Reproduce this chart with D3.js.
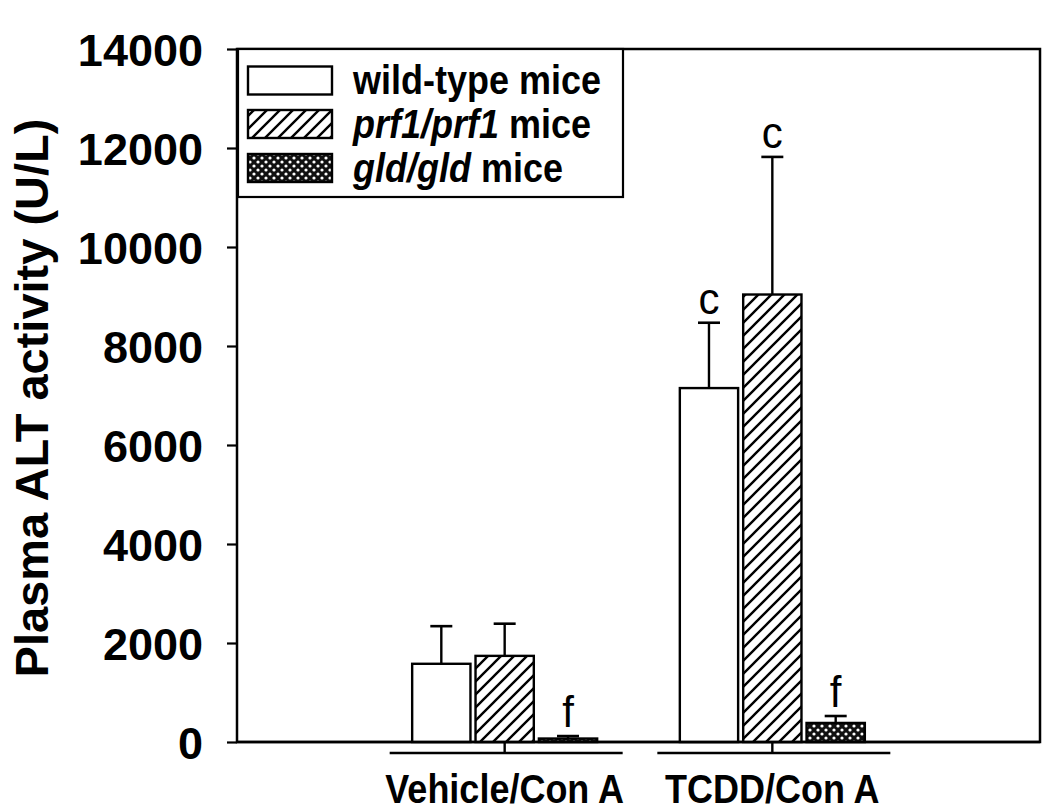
<!DOCTYPE html>
<html><head><meta charset="utf-8">
<script src="https://cdn.jsdelivr.net/npm/d3@7"></script>
<style>body{margin:0;background:#fff;} svg{display:block;} text{font-family:"Liberation Sans",Arial,sans-serif;}</style>
</head><body><svg id="c" width="1050" height="811"></svg>
<script>
const groups = ["Vehicle/Con A", "TCDD/Con A"];
const series = ["wild-type", "prf1/prf1", "gld/gld"];
const means = { "wild-type": [1580, 7150], "prf1/prf1": [1740, 9040], "gld/gld": [70, 385] };
const sems  = { "wild-type": [760, 1320],  "prf1/prf1": [650, 2780],  "gld/gld": [50, 140] };
const letters = { "wild-type": ["", "c"], "prf1/prf1": ["", "c"], "gld/gld": ["f", "f"] };
const yTicks = [0, 2000, 4000, 6000, 8000, 10000, 12000, 14000];
const legendLabels = [
  [{t:"wild-type mice", i:false}],
  [{t:"prf1/prf1", i:true}, {t:" mice", i:false}],
  [{t:"gld/gld", i:true}, {t:" mice", i:false}]
];

const svg = d3.select("#c");
const L = 237, R = 1040, T = 49, B = 742;
const x = d3.scaleLinear().domain([0, 3]).range([L, R]);
const y = d3.scaleLinear().domain([0, 14000]).range([B, T]);
const inner = d3.scaleBand().domain(series).range([-92.5, 92.5]).paddingInner(0.08);

const defs = svg.append("defs");
const hatch = defs.append("pattern").attr("id","hatch").attr("patternUnits","userSpaceOnUse")
  .attr("width",13).attr("height",13);
hatch.append("rect").attr("width",13).attr("height",13).attr("fill","#fff");
hatch.append("path").attr("d","M-3,16 L16,-3 M-3,3 L3,-3 M10,16 L16,10")
  .attr("stroke","#000").attr("stroke-width",2.4);
const cross = defs.append("pattern").attr("id","cross").attr("patternUnits","userSpaceOnUse")
  .attr("width",8).attr("height",8);
cross.append("rect").attr("width",8).attr("height",8).attr("fill","#111");
cross.append("circle").attr("cx",2).attr("cy",2).attr("r",1.6).attr("fill","#fff");
cross.append("circle").attr("cx",6).attr("cy",6).attr("r",1.6).attr("fill","#fff");
const fills = { "wild-type": "#fff", "prf1/prf1": "url(#hatch)", "gld/gld": "url(#cross)" };

// y axis
const yAxis = svg.append("g").attr("transform",`translate(${L},0)`)
  .call(d3.axisLeft(y).tickValues(yTicks).tickSize(10).tickPadding(24).tickFormat(d3.format("d")));
yAxis.select(".domain").remove();
yAxis.selectAll(".tick line").attr("stroke","#000").attr("stroke-width",2.2);
yAxis.selectAll(".tick text").attr("font-size",45).attr("font-weight","bold").attr("fill","#000")
  .attr("font-family","'Liberation Sans',Arial,sans-serif").attr("dy","0.36em");

// frame
svg.append("rect").attr("x",L).attr("y",T).attr("width",R-L).attr("height",B-T)
  .attr("fill","none").attr("stroke","#000").attr("stroke-width",2.5);

// bars
groups.forEach((g, gi) => {
  const cx = x(gi + 1);
  series.forEach(s => {
    const bx = cx + inner(s), bw = inner.bandwidth();
    const v = means[s][gi], e = sems[s][gi];
    const capC = bx + bw / 2;
    svg.append("line").attr("x1",capC).attr("x2",capC).attr("y1",y(v)).attr("y2",y(v+e))
      .attr("stroke","#000").attr("stroke-width",2.4);
    svg.append("line").attr("x1",capC-11).attr("x2",capC+11).attr("y1",y(v+e)).attr("y2",y(v+e))
      .attr("stroke","#000").attr("stroke-width",2.6);
    svg.append("rect").attr("x",bx).attr("y",y(v)).attr("width",bw).attr("height",y(0)-y(v))
      .attr("fill",fills[s]).attr("stroke","#000").attr("stroke-width",2.4);
    if (letters[s][gi]) {
      svg.append("text").attr("transform",`translate(${capC},${y(v+e)-9}) scale(1.05,1.12)`)
        .attr("text-anchor","middle")
        .attr("font-size",40).attr("fill","#000").text(letters[s][gi]);
    }
  });
  svg.append("line").attr("x1",cx-115).attr("x2",cx+118).attr("y1",753).attr("y2",753)
    .attr("stroke","#000").attr("stroke-width",2.6);
  svg.append("line").attr("x1",cx).attr("x2",cx).attr("y1",B).attr("y2",753)
    .attr("stroke","#000").attr("stroke-width",2.4);
  svg.append("text").attr("transform",`translate(${cx},803) scale(1,1.15)`).attr("text-anchor","middle")
    .attr("font-size",36).attr("font-weight","bold").attr("fill","#000").text(g);
});

svg.append("line").attr("x1",L).attr("x2",R).attr("y1",B).attr("y2",B)
  .attr("stroke","#000").attr("stroke-width",2.5);

// y label
svg.append("text").attr("transform","translate(48,398) rotate(-90)").attr("text-anchor","middle")
  .attr("font-size",47).attr("font-weight","bold").attr("fill","#000").text("Plasma ALT activity (U/L)");

// legend
const lg = svg.append("g");
lg.append("rect").attr("x",238).attr("y",49).attr("width",385).attr("height",148)
  .attr("fill","#fff").attr("stroke","#000").attr("stroke-width",2.2);
const rowY = [80.5, 124, 168];
series.forEach((s, i) => {
  lg.append("rect").attr("x",248).attr("y",rowY[i]-14).attr("width",84).attr("height",28)
    .attr("fill",fills[s]).attr("stroke","#000").attr("stroke-width",2.4);
  const t = lg.append("text").attr("transform",`translate(353,${rowY[i]+13.5}) scale(1,1.15)`)
    .attr("font-size",36).attr("font-weight","bold").attr("fill","#000");
  legendLabels[i].forEach(p => t.append("tspan").attr("font-style", p.i ? "italic" : "normal").text(p.t));
});
</script></body></html>
